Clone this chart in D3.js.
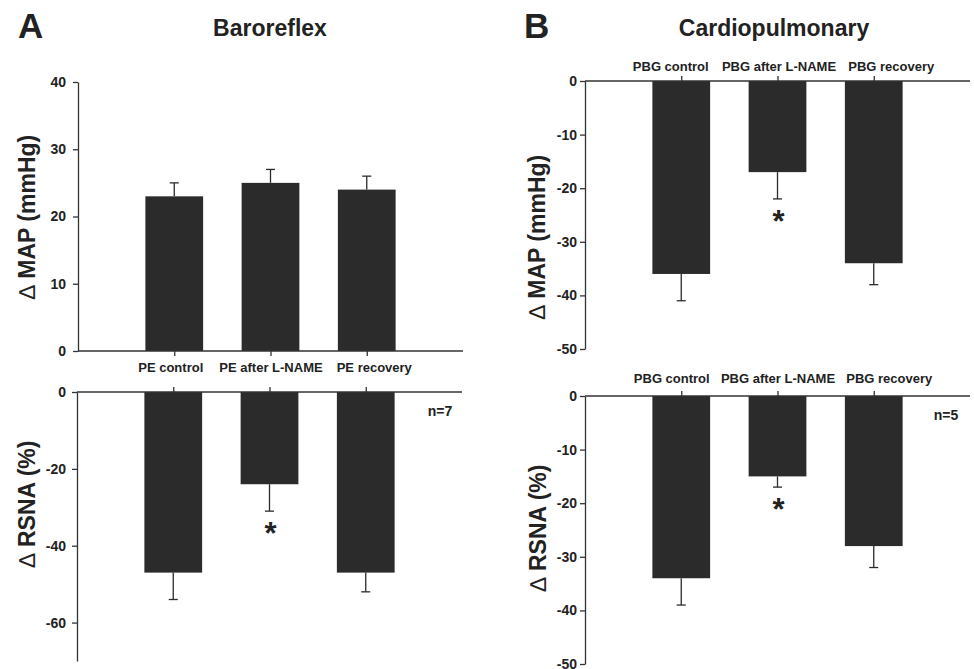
<!DOCTYPE html>
<html>
<head>
<meta charset="utf-8">
<script src="https://cdn.jsdelivr.net/npm/d3@7"></script>
<style>
  body { margin: 0; background: #fff; }
  svg text { font-family: "Liberation Sans", Arial, sans-serif; fill: #222; }
</style>
</head>
<body>
<svg id="chart" width="974" height="669"></svg>
<script>
// categories
const peGroups = ["PE control", "PE after L-NAME", "PE recovery"];
const pbgGroups = ["PBG control", "PBG after L-NAME", "PBG recovery"];

// baroreflex (A)
const baroMAP = [23, 25, 24];
const baroMAPErr = [2, 2, 2];
const baroRSNA = [-47, -24, -47];
const baroRSNAErr = [7, 7, 5];

// cardiopulmonary (B)
const cardioMAP = [-36, -17, -34];
const cardioMAPErr = [5, 5, 4];
const cardioRSNA = [-34, -15, -28];
const cardioRSNAErr = [5, 2, 4];

// significance marks
const sigNone = [false, false, false];
const sigMid = [false, true, false];

// y ticks
const baroMAPTicks = [0, 10, 20, 30, 40];
const baroRSNATicks = [0, -20, -40, -60];
const cardioTicks = [0, -10, -20, -30, -40, -50];

const svg = d3.select("#chart");
const ink = "#2b2b2b";

const drawPanel = (p) => {
  const g = svg.append("g");
  const x = d3.scalePoint().domain(p.groups).range([p.x0, p.x1]).padding(1);
  const y = d3.scaleLinear().domain(p.domain).range(p.yRange);
  const bw = x.step() * 0.6;
  const data = p.groups.map((c, i) => ({c, v: p.values[i], e: p.errs[i], s: p.sig[i], i}));

  // bars
  g.selectAll("rect.bar").data(data).join("rect")
    .attr("class", "bar")
    .attr("x", d => x(d.c) - bw / 2)
    .attr("width", bw)
    .attr("y", d => Math.min(y(d.v), y(0)))
    .attr("height", d => Math.abs(y(d.v) - y(0)))
    .attr("fill", ink);

  // one sided error bars
  const tip = d => d.v >= 0 ? d.v + d.e : d.v - d.e;
  g.selectAll("line.err").data(data).join("line")
    .attr("class", "err")
    .attr("x1", d => x(d.c)).attr("x2", d => x(d.c))
    .attr("y1", d => y(d.v)).attr("y2", d => y(tip(d)))
    .attr("stroke", ink).attr("stroke-width", 1.3);
  g.selectAll("line.cap").data(data).join("line")
    .attr("class", "cap")
    .attr("x1", d => x(d.c) - 4.5).attr("x2", d => x(d.c) + 4.5)
    .attr("y1", d => y(tip(d))).attr("y2", d => y(tip(d)))
    .attr("stroke", ink).attr("stroke-width", 1.3);

  // asterisks
  g.selectAll("text.sig").data(data.filter(d => d.s)).join("text")
    .attr("class", "sig")
    .attr("x", d => x(d.c) + 1)
    .attr("y", d => y(tip(d)) + 33)
    .attr("text-anchor", "middle")
    .attr("font-size", 31).attr("font-weight", "bold")
    .text("*");

  // y axis (plain hyphen minus like the original)
  const yAxis = g.append("g")
    .attr("transform", `translate(${p.x0},0)`)
    .call(d3.axisLeft(y).tickValues(p.ticks).tickFormat(d => String(d))
      .tickSize(5).tickSizeOuter(0).tickPadding(p.yPad));
  yAxis.selectAll("text").attr("font-size", 14).attr("font-weight", "bold")
    .attr("font-family", null).style("fill", "#222");

  // x axis on zero line
  let xAxisGen;
  if (p.xSide === "bottom") xAxisGen = d3.axisBottom(x);
  else xAxisGen = d3.axisTop(x);
  xAxisGen.tickSize(5).tickSizeOuter(0).tickPadding(p.xPad);
  if (!p.showLabels) xAxisGen.tickFormat("");
  const xAxis = g.append("g")
    .attr("transform", `translate(0,${y(0)})`)
    .call(xAxisGen);
  xAxis.select(".domain").attr("d", `M${p.x0},0H${p.x1}`);
  xAxis.selectAll("text").attr("font-size", 13).attr("font-weight", "bold")
    .attr("font-family", null).style("fill", "#222")
    .attr("dx", (d, i) => p.labelShift[i]);

  g.selectAll(".domain, .tick line").attr("stroke", "#333").attr("stroke-width", 1.3);

  // y title
  const t = g.append("text")
    .attr("transform", `translate(${p.titleX},${p.titleY}) rotate(-90)`)
    .attr("text-anchor", "middle")
    .attr("font-size", 23).attr("font-weight", "bold");
  t.append("tspan").attr("font-weight", "normal").text("\u2206");
  t.append("tspan").text(" " + p.yTitle);

  if (p.n) {
    g.append("text")
      .attr("x", p.nX).attr("y", y(0) + 24)
      .attr("text-anchor", "middle")
      .attr("font-size", 14).attr("font-weight", "bold")
      .text(p.n);
  }
};

drawPanel({groups: peGroups, values: baroMAP, errs: baroMAPErr, sig: sigNone,
  x0: 78, x1: 463, domain: [0, 40], yRange: [351, 82], ticks: baroMAPTicks, yPad: 7,
  xSide: "bottom", xPad: 7, showLabels: true, labelShift: [-4, 0, 7],
  yTitle: "MAP (mmHg)", titleX: 35, titleY: 217});

drawPanel({groups: peGroups, values: baroRSNA, errs: baroRSNAErr, sig: sigMid,
  x0: 77, x1: 462, domain: [-70, 0], yRange: [661, 392], ticks: baroRSNATicks, yPad: 6,
  xSide: "top", xPad: 5, showLabels: false, labelShift: [0, 0, 0],
  yTitle: "RSNA (%)", titleX: 35, titleY: 504, n: "n=7", nX: 440});

drawPanel({groups: pbgGroups, values: cardioMAP, errs: cardioMAPErr, sig: sigMid,
  x0: 585, x1: 970, domain: [-50, 0], yRange: [349, 81], ticks: cardioTicks, yPad: 3,
  xSide: "top", xPad: 5, showLabels: true, labelShift: [-11, 1, 17],
  yTitle: "MAP (mmHg)", titleX: 545, titleY: 237});

drawPanel({groups: pbgGroups, values: cardioRSNA, errs: cardioRSNAErr, sig: sigMid,
  x0: 585, x1: 970, domain: [-50, 0], yRange: [664, 396], ticks: cardioTicks, yPad: 3,
  xSide: "top", xPad: 8, showLabels: true, labelShift: [-10, 0, 15],
  yTitle: "RSNA (%)", titleX: 546, titleY: 528, n: "n=5", nX: 946});

// panel letters and titles
svg.append("text").attr("x", 18).attr("y", 38).attr("font-size", 35).attr("font-weight", "bold").text("A");
svg.append("text").attr("x", 524).attr("y", 38).attr("font-size", 35).attr("font-weight", "bold").text("B");
svg.append("text").attr("x", 270).attr("y", 36).attr("text-anchor", "middle")
  .attr("font-size", 23).attr("font-weight", "bold").text("Baroreflex");
svg.append("text").attr("x", 774).attr("y", 36).attr("text-anchor", "middle")
  .attr("font-size", 23).attr("font-weight", "bold").text("Cardiopulmonary");
</script>
</body>
</html>
